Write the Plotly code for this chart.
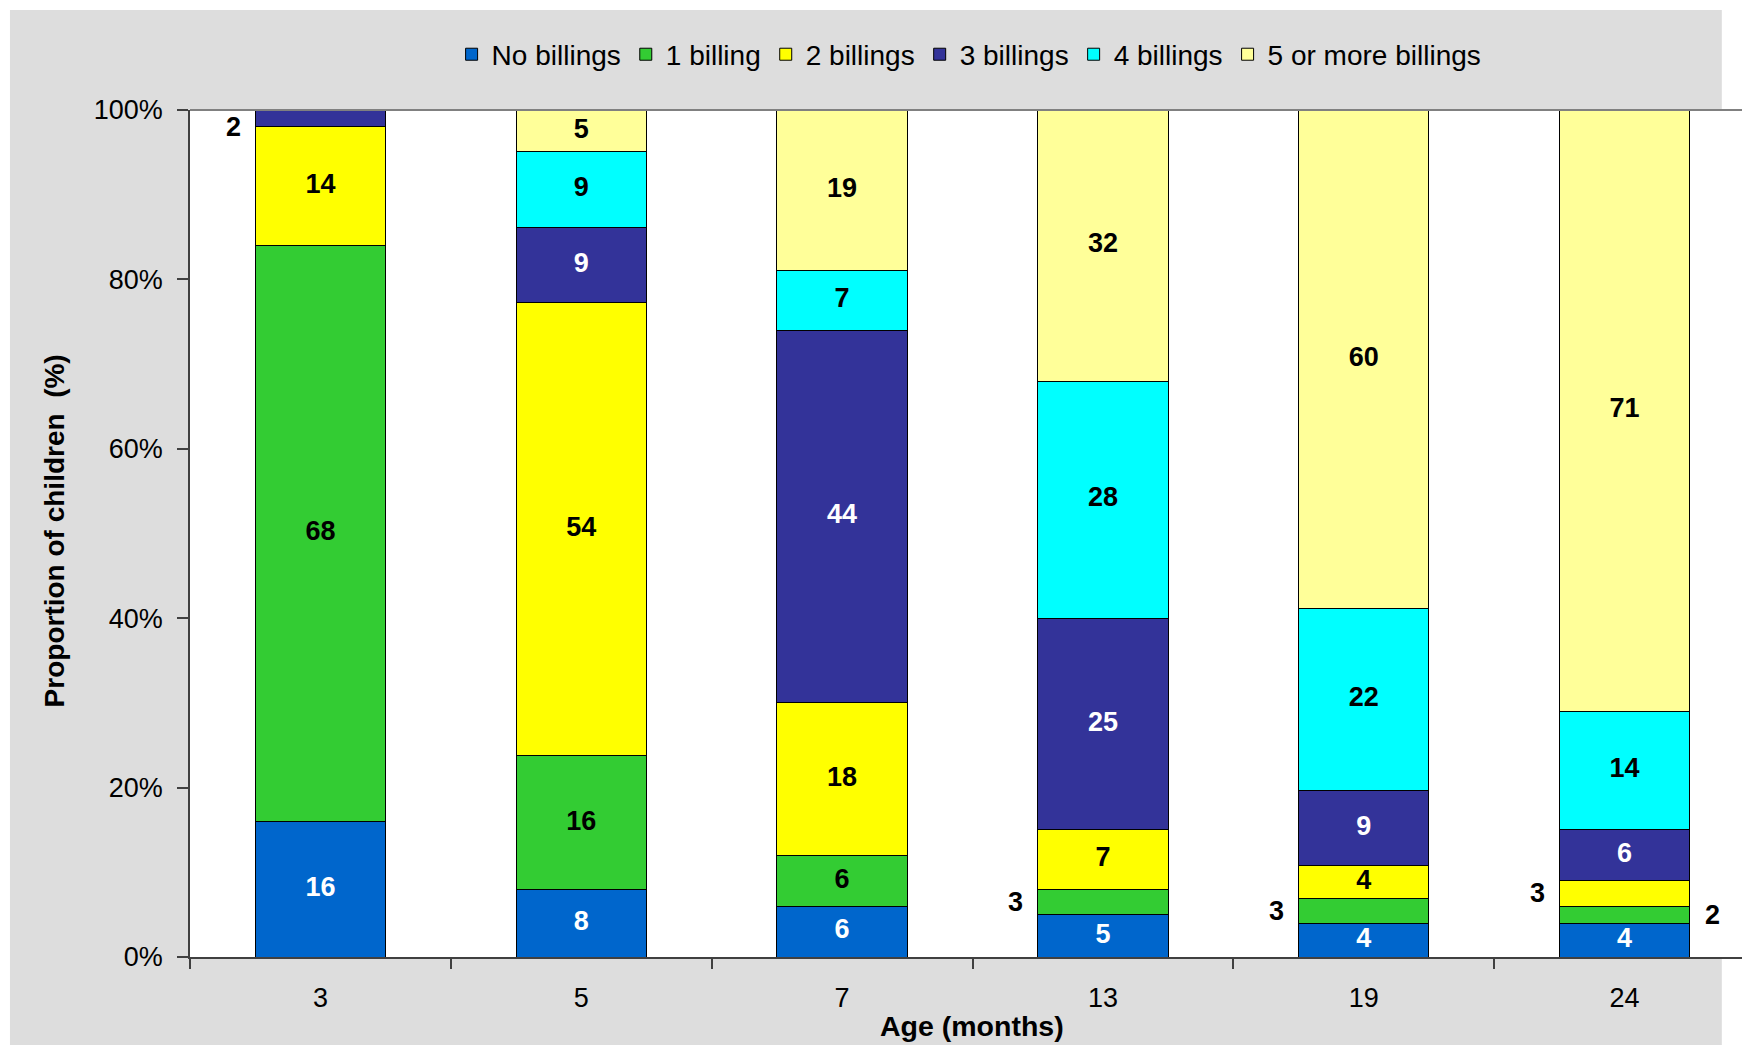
import plotly.graph_objects as go

# Age groups (months) and share of children by number of billings
ages = ["3", "5", "7", "13", "19", "24"]
series_names = ["No billings", "1 billing", "2 billings", "3 billings",
                "4 billings", "5 or more billings"]
no_billings = [16, 8, 6, 5, 4, 4]
one_billing = [68, 16, 6, 3, 3, 2]
two_billings = [14, 54, 18, 7, 4, 3]
three_billings = [2, 9, 44, 25, 9, 6]
four_billings = [0, 9, 7, 28, 22, 14]
five_plus = [0, 5, 19, 32, 60, 71]

y_ticks = [0, 20, 40, 60, 80, 100]
y_tick_labels = ["0%", "20%", "40%", "60%", "80%", "100%"]

# Segments whose value is written beside the bar: (age index, series index, side)
outside_labels = [(0, 3, -1), (3, 1, -1), (4, 1, -1), (5, 1, 1), (5, 2, -1)]

series_values = [no_billings, one_billing, two_billings, three_billings,
                 four_billings, five_plus]
colors = ["#0066CC", "#33CC33", "#FFFF00", "#333399", "#00FFFF", "#FFFF99"]
label_colors = ["white", "black", "black", "white", "black", "black"]

FONT = "Liberation Sans, Arial, sans-serif"

fig = go.Figure()

for name, vals, col in zip(series_names, series_values, colors):
    fig.add_trace(go.Bar(
        x=ages, y=vals, name=name, width=0.5,
        marker=dict(color=col, line=dict(color="black", width=1)),
        hoverinfo="skip",
    ))

# Label positions: segment midpoints on the 100 % normalised stack
totals = [sum(s[i] for s in series_values) for i in range(len(ages))]
mids = []
for i in range(len(ages)):
    base = 0
    col_mids = []
    for s in series_values:
        col_mids.append((base + s[i] / 2) / totals[i] * 100)
        base += s[i]
    mids.append(col_mids)

outside_set = {(a, s) for a, s, _ in outside_labels}
for si, vals in enumerate(series_values):
    xs, ys, txt = [], [], []
    for ai, v in enumerate(vals):
        if v == 0 or (ai, si) in outside_set:
            continue
        xs.append(ages[ai])
        ys.append(mids[ai][si])
        txt.append(str(v))
    fig.add_trace(go.Scatter(
        x=xs, y=ys, text=txt, mode="text", showlegend=False,
        textfont=dict(family=FONT, size=27, color=label_colors[si], weight="bold"),
        hoverinfo="skip",
    ))

annotations = []
for ai, si, side in outside_labels:
    annotations.append(dict(
        x=ai + side * 0.335, y=min(mids[ai][si], 98), xref="x", yref="y",
        text="<b>%d</b>" % series_values[si][ai], showarrow=False,
        font=dict(family=FONT, size=27, color="black"),
    ))

# Axis titles
annotations.append(dict(
    x=-0.0867, y=0.503, xref="paper", yref="paper", textangle=-90,
    xanchor="center", yanchor="middle",
    text="<b>Proportion of children  (%)</b>", showarrow=False,
    font=dict(family=FONT, size=28, color="black"),
))
annotations.append(dict(
    x=0.504, y=-0.081, xref="paper", yref="paper",
    xanchor="center", yanchor="middle",
    text="<b>Age (months)</b>", showarrow=False,
    font=dict(family=FONT, size=28.5, color="black"),
))

shapes = [
    dict(type="rect", xref="paper", yref="paper", x0=-0.116, x1=0.987,
         y0=-0.2, y1=1.118, fillcolor="#DDDDDD", line=dict(width=0), layer="below"),
    dict(type="rect", xref="paper", yref="paper", x0=0, x1=1, y0=0, y1=1,
         fillcolor="white", line=dict(width=0), layer="below"),
    dict(type="line", xref="paper", yref="paper", x0=0, x1=1, y0=1, y1=1,
         line=dict(color="#808080", width=2)),
]

fig.update_layout(
    width=1742, height=1045,
    margin=dict(l=190, r=0, t=110, b=88),
    paper_bgcolor="white", plot_bgcolor="white",
    barmode="stack", barnorm="percent",
    font=dict(family=FONT, size=27, color="black"),
    showlegend=True,
    legend=dict(orientation="h", x=0.502, xanchor="center", y=1.0655,
                yanchor="middle", bgcolor="rgba(0,0,0,0)",
                font=dict(family=FONT, size=28, color="black"),
                traceorder="normal"),
    shapes=shapes, annotations=annotations,
    xaxis=dict(type="category", range=[-0.5, 5.45], showgrid=False,
               showline=True, linecolor="#404040", linewidth=1.5,
               ticks="outside", tickson="boundaries", ticklen=10,
               tickcolor="#404040", tickwidth=1.5, ticklabelstandoff=16,
               zeroline=False),
    yaxis=dict(range=[0, 100], tickvals=y_ticks, ticktext=y_tick_labels,
               showgrid=False, showline=True, linecolor="#404040", linewidth=1.5,
               ticks="outside", ticklen=11, tickcolor="#404040", tickwidth=1.5,
               ticklabelstandoff=9, zeroline=False),
)

fig.write_html("out.html")
